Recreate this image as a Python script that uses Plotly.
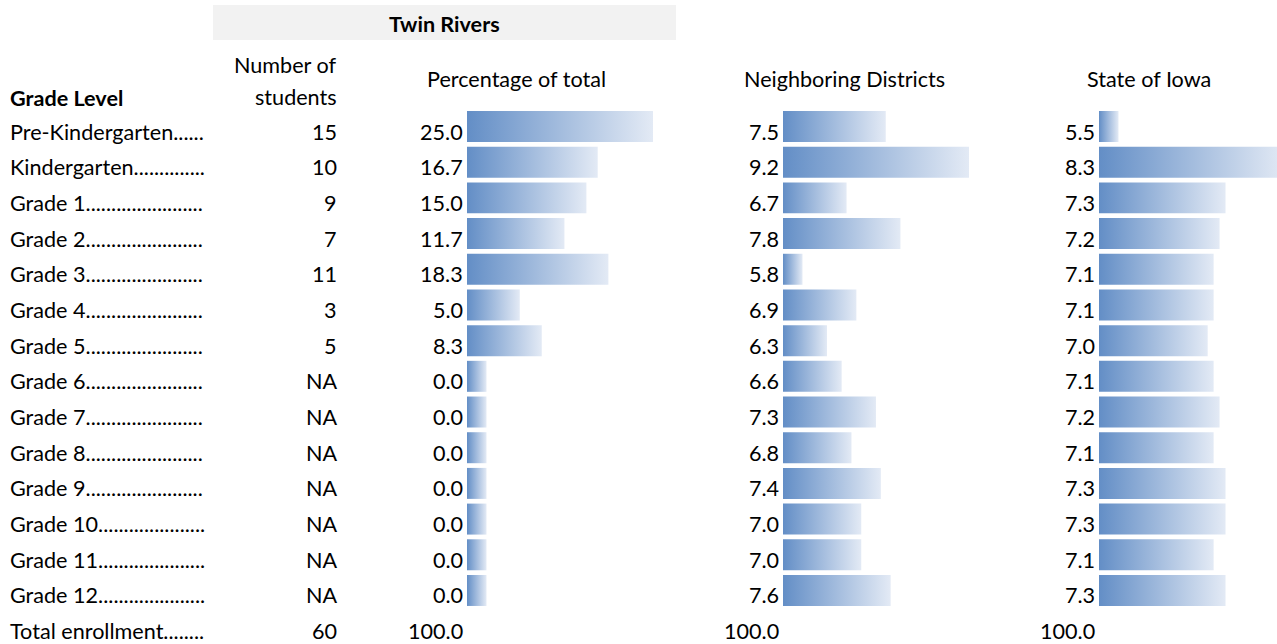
import plotly.graph_objects as go

# ---------------- data ----------------
row_labels = [
    "Pre-Kindergarten......",
    "Kindergarten..............",
    "Grade 1.......................",
    "Grade 2.......................",
    "Grade 3.......................",
    "Grade 4.......................",
    "Grade 5.......................",
    "Grade 6.......................",
    "Grade 7.......................",
    "Grade 8.......................",
    "Grade 9.......................",
    "Grade 10.....................",
    "Grade 11.....................",
    "Grade 12.....................",
]
total_label = "Total enrollment........"
students = [15, 10, 9, 7, 11, 3, 5, None, None, None, None, None, None, None]
twin_pct = [25.0, 16.7, 15.0, 11.7, 18.3, 5.0, 8.3, 0.0, 0.0, 0.0, 0.0, 0.0, 0.0, 0.0]
neighbor_pct = [7.5, 9.2, 6.7, 7.8, 5.8, 6.9, 6.3, 6.6, 7.3, 6.8, 7.4, 7.0, 7.0, 7.6]
iowa_pct = [5.5, 8.3, 7.3, 7.2, 7.1, 7.1, 7.0, 7.1, 7.2, 7.1, 7.3, 7.3, 7.1, 7.3]
total_students = 60
total_pct = [100.0, 100.0, 100.0]

group_title = "Twin Rivers"
col_headers = ["Grade Level", "Number of", "students", "Percentage of total",
               "Neighboring Districts", "State of Iowa"]

# ---------------- layout constants ----------------
W, H = 1277, 644
FONT = "Lato"
FS = 21.6
ROW0 = 126.5      # pixel centre of first bar row
PITCH = 35.69     # pixel row pitch
HALF = 0.434      # bar half height in row units
TXT_OFF = 5.0 / PITCH
C0, C1 = "#638EC6", "#E3EAF5"


def px(x):
    return x / W


def py(y):
    return 1 - y / H


fig = go.Figure()

# bar columns: (axis name, values, bar start px, max bar end px, value right edge px)
columns = [
    ("x", twin_pct, 467, 653, 463),
    ("x2", neighbor_pct, 783, 969, 779),
    ("x3", iowa_pct, 1099, 1285, 1095),
]
MINLEN = 19.5

layout_axes = {}
for k, (ax, vals, start, maxend, txt_x) in enumerate(columns):
    vmin, vmax = min(vals), max(vals)
    L1 = maxend - start
    lo = vmin - (vmax - vmin) * MINLEN / (L1 - MINLEN)
    end_px = min(maxend, W)
    hi = lo + (vmax - lo) * (end_px - start) / L1
    name = "xaxis" if ax == "x" else "xaxis" + ax[1:]
    layout_axes[name] = dict(domain=[px(start), px(end_px)], range=[lo, hi],
                             visible=False, fixedrange=True, anchor="y")
    for i, v in enumerate(vals):
        fig.add_trace(go.Scatter(
            x=[lo, v, v, lo, lo],
            y=[i - HALF, i - HALF, i + HALF, i + HALF, i - HALF],
            xaxis=ax, yaxis="y", mode="lines", fill="toself",
            fillgradient=dict(type="horizontal", colorscale=[[0, C0], [1, C1]]),
            line=dict(width=0, color="rgba(0,0,0,0)"),
            hoverinfo="skip", showlegend=False,
        ))

ymax = (H - ROW0) / PITCH
ymin = -ROW0 / PITCH

annotations = []


def add_text(text, x, y, xanchor="left", bold=False, yref="y", yanchor="middle"):
    annotations.append(dict(
        text=f"<b>{text}</b>" if bold else text,
        x=px(x), xref="paper", y=y, yref=yref,
        xanchor=xanchor, yanchor=yanchor, showarrow=False,
        font=dict(family=FONT, size=FS, color="black"),
    ))


# row texts
n = len(row_labels)
for i in range(n):
    yy = i + TXT_OFF
    add_text(row_labels[i], 8, yy)
    add_text("NA" if students[i] is None else str(students[i]), 339, yy, "right")
    for (ax, vals, start, maxend, txt_x) in columns:
        add_text(f"{vals[i]:.1f}", txt_x + 2, yy, "right")

# total row
yy = n + TXT_OFF
add_text(total_label, 8, yy)
add_text(str(total_students), 339, yy, "right")
for (ax, vals, start, maxend, txt_x), t in zip(columns, total_pct):
    add_text(f"{t:.1f}", txt_x + 2, yy, "right")

# headers
add_text(group_title, 444, py(24), "center", bold=True, yref="paper")
add_text(col_headers[0], 8, py(98), "left", bold=True, yref="paper")
add_text(col_headers[1], 339, py(65), "right", yref="paper")
add_text(col_headers[2], 339, py(97), "right", yref="paper")
add_text(col_headers[3], 516, py(79), "center", yref="paper")
add_text(col_headers[4], 844, py(79), "center", yref="paper")
add_text(col_headers[5], 1149, py(79), "center", yref="paper")

shapes = [dict(type="rect", xref="paper", yref="paper",
               x0=px(213), x1=px(676), y0=py(40), y1=py(5),
               fillcolor="#F2F2F2", line=dict(width=0), layer="below")]

fig.update_layout(
    width=W, height=H,
    margin=dict(l=0, r=0, t=0, b=0),
    paper_bgcolor="white", plot_bgcolor="white",
    yaxis=dict(domain=[0, 1], range=[ymax, ymin], visible=False, fixedrange=True),
    annotations=annotations, shapes=shapes,
    showlegend=False,
    **layout_axes,
)

fig.write_html(
    "out.html",
    config={"displayModeBar": False},
    post_script="document.body.style.margin='0';document.body.style.overflow='hidden';",
)
